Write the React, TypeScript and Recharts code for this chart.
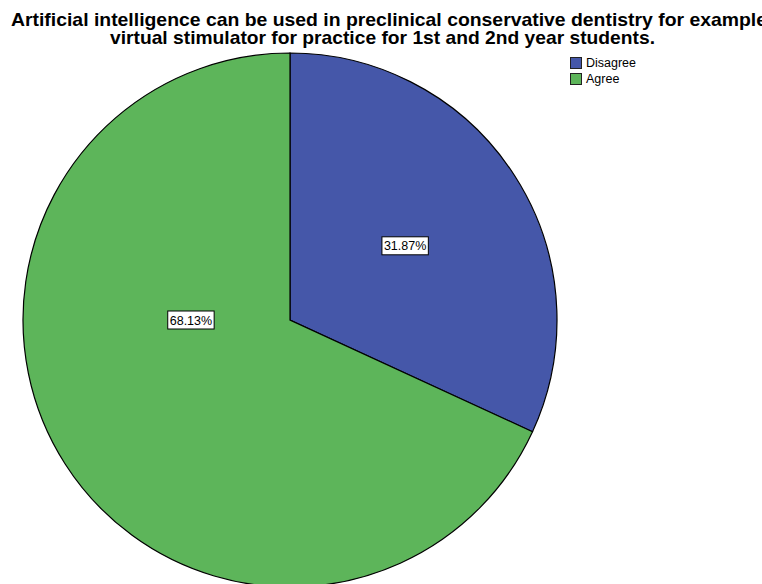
import { Legend, Pie, PieChart, Cell } from "recharts";

const categories = ["Disagree", "Agree"];
const percents = [31.87, 68.13];
const colors = ["#4557a9", "#5db55a"];

const titleLines = [
  "Artificial intelligence can be used in preclinical conservative dentistry for example",
  "virtual stimulator for practice for 1st and 2nd year students.",
];

// where each slice's label box sits: angle in degrees, distance as share of radius
const labelSpots = [
  { angle: 32.8, dist: 0.513 },
  { angle: 180, dist: 0.371 },
];

const data = categories.map((name, i) => ({ name, value: percents[i] }));

const FONT = "'Liberation Sans', Arial, Helvetica, sans-serif";

function SliceLabel(props: any) {
  const { cx, cy, outerRadius, index, value } = props;
  const spot = labelSpots[index];
  const rad = (spot.angle * Math.PI) / 180;
  const x = cx + Math.cos(rad) * outerRadius * spot.dist;
  const y = cy - Math.sin(rad) * outerRadius * spot.dist;
  const text = `${Number(value).toFixed(2)}%`;
  const w = text.length * 7.4 + 2;
  const h = 18;
  return (
    <g>
      <rect x={x - w / 2} y={y - h / 2} width={w} height={h} fill="#fff" stroke="#000" strokeWidth={1} />
      <text x={x} y={y + 4.5} textAnchor="middle" fontSize={12.5} fontFamily={FONT} fill="#000">
        {text}
      </text>
    </g>
  );
}

function LegendBox() {
  return (
    <div style={{ fontFamily: FONT, fontSize: 12.5, lineHeight: "16px", color: "#000" }}>
      {categories.map((c, i) => (
        <div key={c} style={{ display: "flex", alignItems: "center" }}>
          <span
            style={{
              display: "inline-block",
              width: 10,
              height: 10,
              background: colors[i],
              border: "1px solid #222",
              marginRight: 4,
            }}
          />
          {c}
        </div>
      ))}
    </div>
  );
}

export default function App() {
  return (
    <div style={{ position: "absolute", left: 0, top: 0, width: 762, height: 584, overflow: "hidden", background: "#fff" }}>
      <PieChart width={762} height={584} margin={{ top: 0, right: 0, bottom: 0, left: 0 }}>
        <Pie
          data={data}
          dataKey="value"
          nameKey="name"
          cx={290}
          cy={320}
          outerRadius={267}
          startAngle={90}
          endAngle={-270}
          stroke="#000"
          strokeWidth={1.2}
          label={SliceLabel}
          labelLine={false}
          isAnimationActive={false}
        >
          {data.map((d, i) => (
            <Cell key={d.name} fill={colors[i]} />
          ))}
        </Pie>
        <Legend
          content={<LegendBox />}
          wrapperStyle={{ position: "absolute", left: 570, top: 55, width: 100 }}
        />
      </PieChart>
      <svg width={762} height={60} style={{ position: "absolute", left: 0, top: 0 }}>
        <text
          x={11}
          y={26}
          fontSize={18.5}
          fontWeight="bold"
          fontFamily={FONT}
          textLength={756}
          lengthAdjust="spacingAndGlyphs"
        >
          {titleLines[0]}
        </text>
        <text
          x={110}
          y={44}
          fontSize={18.5}
          fontWeight="bold"
          fontFamily={FONT}
          textLength={545}
          lengthAdjust="spacingAndGlyphs"
        >
          {titleLines[1]}
        </text>
      </svg>
    </div>
  );
}
